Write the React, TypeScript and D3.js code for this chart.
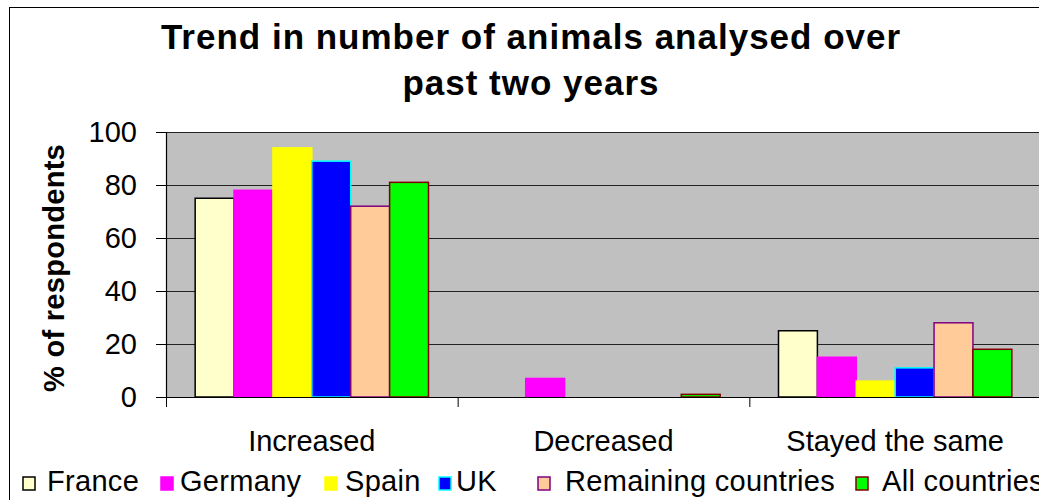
import React from "react";
import * as d3 from "d3";

const categories = ["Increased", "Decreased", "Stayed the same"];
const seriesNames = ["France", "Germany", "Spain", "UK", "Remaining countries", "All countries"];
const france = [75, 0, 25];
const germany = [78, 7, 15];
const spain = [94, 0, 6];
const uk = [89, 0, 11];
const remaining = [72, 0, 28];
const allCountries = [81, 1, 18];
const seriesValues = [france, germany, spain, uk, remaining, allCountries];
const fills = ["#FFFFCC", "#FF00FF", "#FFFF00", "#0000FF", "#FFCC99", "#00FF00"];
const strokes = ["#000000", "#FF00FF", "#FFFF00", "#00FFFF", "#800080", "#800000"];
const yTicks = [0, 20, 40, 60, 80, 100];
const titleLines = ["Trend in number of animals analysed over", "past two years"];
const yLabel = "% of respondents";

// layout
const W = 1039;
const H = 500;
const plot = { left: 166, right: 1041, top: 132, bottom: 397 };
const legendTextX = [47, 180, 345, 456, 565, 882];
const legendBoxX = [23, 161, 325, 439, 538, 856];
const FONT = "Arial, 'Liberation Sans', sans-serif";

export default function App() {
  const y = d3.scaleLinear().domain([0, 100]).range([plot.bottom, plot.top]);
  const x0 = d3.scaleBand<string>().domain(categories).range([plot.left, plot.right]).padding(0);
  const x1 = d3
    .scaleBand<string>()
    .domain(seriesNames)
    .range([0, x0.bandwidth()])
    .paddingInner(0)
    .paddingOuter(0.75);
  const catEdges = categories.map((c) => x0(c) as number).concat([plot.right]);

  return (
    <svg
      width={W}
      height={H}
      style={{ position: "absolute", left: 0, top: 0, background: "#fff" }}
      fontFamily={FONT}
    >
      <rect x={9.5} y={7.5} width={1040} height={510} fill="#fff" stroke="#000" strokeWidth={1} />
      {titleLines.map((t, i) => (
        <text
          key={i}
          x={531}
          y={49 + i * 46}
          textAnchor="middle"
          fontSize={35}
          fontWeight="bold"
          letterSpacing={1}
        >
          {t}
        </text>
      ))}
      <rect
        x={plot.left}
        y={plot.top}
        width={plot.right - plot.left}
        height={plot.bottom - plot.top}
        fill="#C0C0C0"
      />
      {yTicks.map((t) => (
        <g key={t}>
          {t > 0 && (
            <line x1={plot.left} x2={plot.right} y1={y(t) + 0.5} y2={y(t) + 0.5} stroke="#222" strokeWidth={1} />
          )}
          <line x1={156} x2={plot.left} y1={y(t) + 0.5} y2={y(t) + 0.5} stroke="#000" strokeWidth={1} />
          <text x={137} y={y(t)} dy="0.36em" textAnchor="end" fontSize={29}>
            {t}
          </text>
        </g>
      ))}
      <text
        transform={`translate(64,268) rotate(-90)`}
        textAnchor="middle"
        fontSize={29}
        fontWeight="bold"
        letterSpacing={0.3}
      >
        {yLabel}
      </text>
      {categories.map((c, ci) => (
        <g key={c}>
          {seriesValues.map((vals, si) => {
            const v = vals[ci];
            if (v <= 0) return null;
            const bx = (x0(c) as number) + (x1(seriesNames[si]) as number);
            return (
              <rect
                key={si}
                x={bx}
                y={y(v)}
                width={x1.bandwidth()}
                height={y(0) - y(v)}
                fill={fills[si]}
                stroke={strokes[si]}
                strokeWidth={1.5}
              />
            );
          })}
          <text x={(x0(c) as number) + x0.bandwidth() / 2} y={451} textAnchor="middle" fontSize={29}>
            {c}
          </text>
        </g>
      ))}
      <line x1={plot.left} x2={plot.right} y1={plot.bottom + 0.5} y2={plot.bottom + 0.5} stroke="#000" strokeWidth={1.2} />
      <line x1={plot.left + 0.5} x2={plot.left + 0.5} y1={plot.top} y2={plot.bottom} stroke="#000" strokeWidth={1.2} />
      {catEdges.map((e, i) => (
        <line key={i} x1={e + 0.5} x2={e + 0.5} y1={plot.bottom} y2={plot.bottom + 10} stroke="#000" strokeWidth={1} />
      ))}
      {seriesNames.map((s, i) => (
        <g key={s}>
          <rect
            x={legendBoxX[i]}
            y={477}
            width={12}
            height={13}
            fill={fills[i]}
            stroke={strokes[i]}
            strokeWidth={1.5}
          />
          <text x={legendTextX[i]} y={491} fontSize={29} letterSpacing={0.3}>
            {s}
          </text>
        </g>
      ))}
    </svg>
  );
}
